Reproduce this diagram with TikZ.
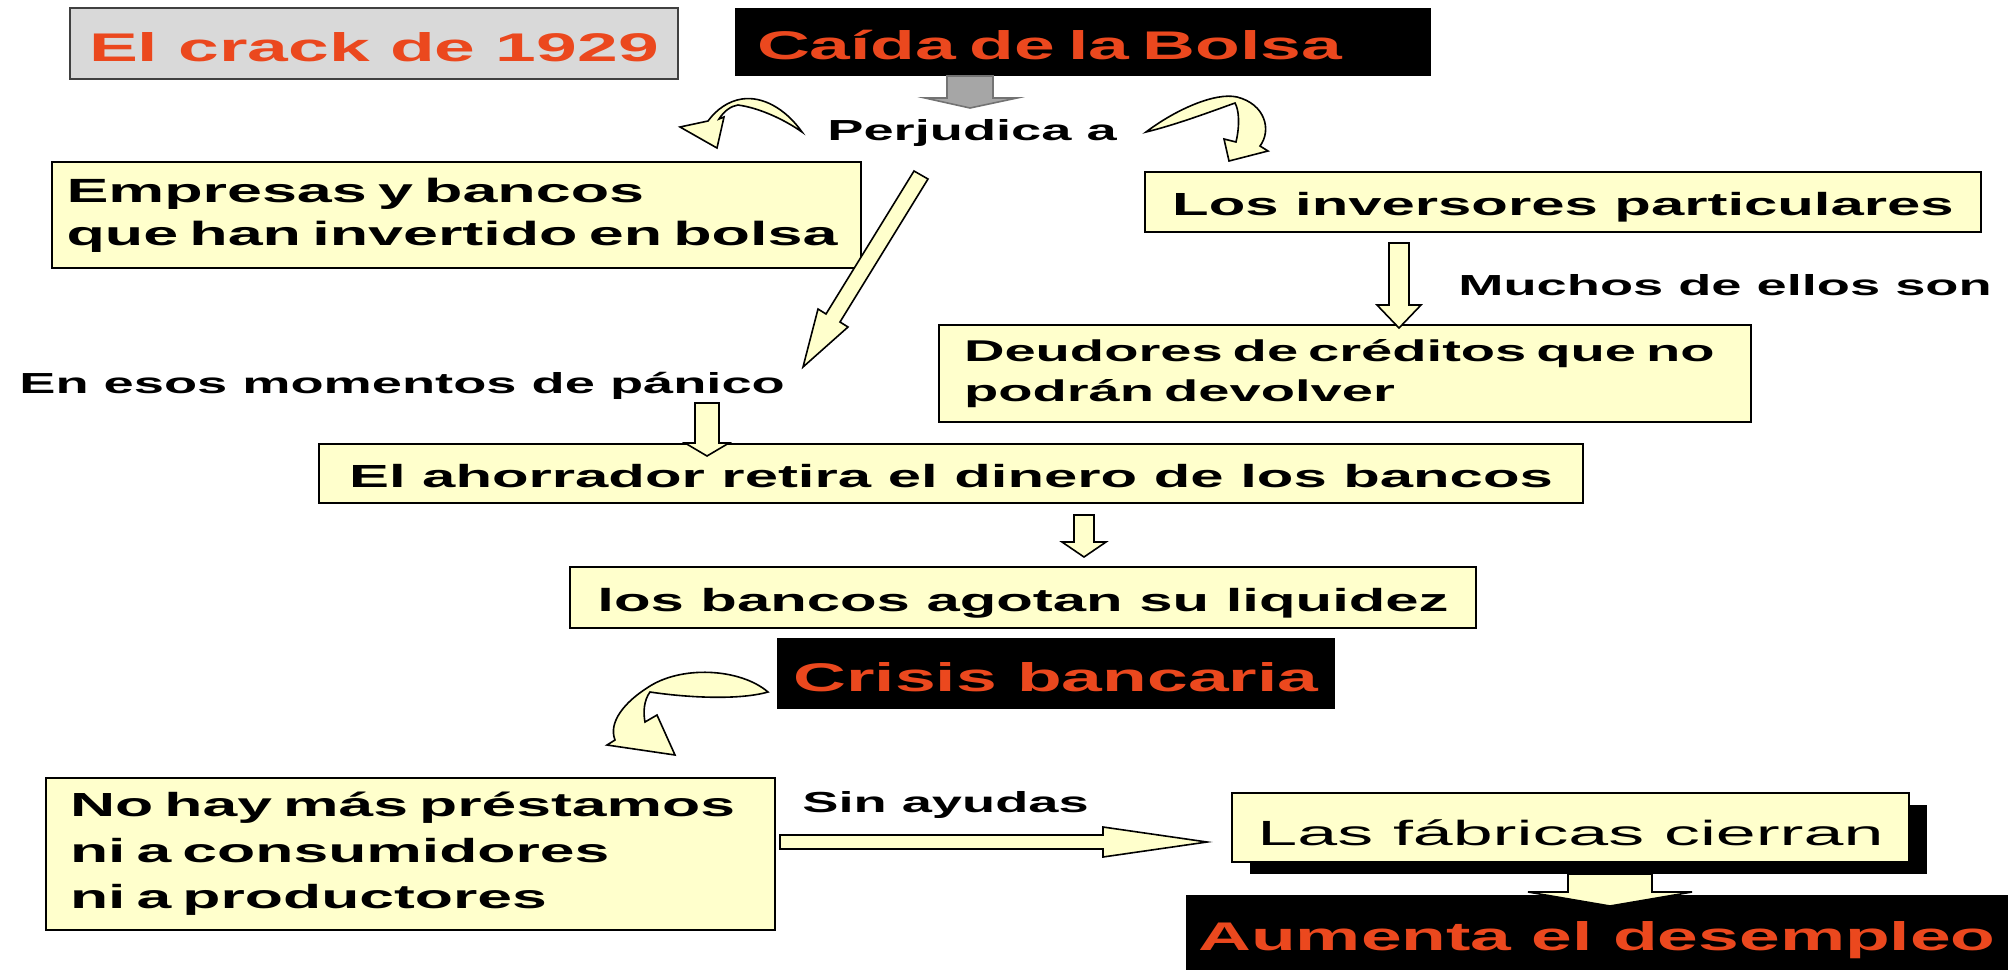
\documentclass[tikz,border=0pt]{standalone}
\usepackage{fontspec}
\setmainfont{Liberation Sans}[FakeStretch=1.87]
\newfontfamily\titlefont{Liberation Sans}[FakeStretch=1.83]
\newfontfamily\plainfont{Liberation Sans}[FakeStretch=2.05]
\usetikzlibrary{shadows}

\definecolor{boxyellow}{RGB}{255,255,204}
\definecolor{titlered}{RGB}{235,72,30}
\definecolor{crackgray}{RGB}{217,217,217}

\begin{document}
\begin{tikzpicture}[x=0.5pt,y=-0.5pt,
    ybox/.style={draw=black, line width=1.2pt, fill=boxyellow, inner sep=0pt,
      font=\bfseries\fontsize{16}{21.5}\selectfont},
    oneline/.style={text height=13.6pt, text depth=0pt},
    tbox/.style={fill=black, text=titlered, inner sep=0pt, text height=17.5pt, text depth=0pt,
      font=\titlefont\bfseries\fontsize{20}{24}\selectfont},
    lbl/.style={anchor=base west, inner sep=0pt, font=\bfseries\fontsize{14.5}{17}\selectfont},
    barrow/.style={draw=black, line width=0.8pt, fill=boxyellow, line join=miter}]
    \path[use as bounding box, fill=white] (0,0) rectangle (2008,970);

    \node[tbox, fill=crackgray, draw=black!75, line width=1pt, minimum width=304pt, minimum height=35.5pt] (crack) at (374,43.5) {El crack de 1929};
    \node[tbox, minimum width=348pt, minimum height=34pt, text width=326pt, align=left] (caida) at (1083,42) {Caída de la Bolsa};
    \node[lbl] (perj) at (827,140) {Perjudica a};
    \node[ybox, font=\bfseries\fontsize{16.8}{21.5}\selectfont, minimum width=404.5pt, minimum height=53pt, text width=390pt, align=left] (emp) at (456.5,215) {Empresas y bancos\\que han invertido en bolsa};
    \node[ybox, oneline, minimum width=418pt, minimum height=30pt] (inv) at (1563,202) {Los inversores particulares};
    \node[lbl] (muchos) at (1458,295) {Muchos de ellos son};
    \node[ybox, font=\bfseries\fontsize{15}{20}\selectfont, minimum width=406pt, minimum height=48.5pt, text width=381pt, align=left] (deu) at (1345,373.5) {Deudores de créditos que no\\podrán devolver};
    \node[lbl] (panico) at (19,393) {En esos momentos de pánico};
    \node[ybox, oneline, minimum width=632pt, minimum height=29.5pt] (aho) at (951,473.5) {El ahorrador retira el dinero de los bancos};
    \node[ybox, oneline, minimum width=453pt, minimum height=30.5pt] (liq) at (1023,597.5) {los bancos agotan su liquidez};
    \node[tbox, minimum width=279pt, minimum height=35.5pt] (crisis) at (1056,673.5) {Crisis bancaria};
    \node[ybox, font=\bfseries\fontsize{16.7}{23}\selectfont, minimum width=364.5pt, minimum height=76pt, text width=340.5pt, align=left] (nohay) at (410.5,854) {No hay más préstamos\\ni a consumidores\\ni a productores};
    \node[lbl] (sin) at (802,812) {Sin ayudas};
    \node[tbox, minimum width=411pt, minimum height=37.5pt] (aum) at (1597,932.5) {Aumenta el desempleo};
    \node[ybox, font=\plainfont\fontsize{17.5}{21}\selectfont, text height=17.5pt, text depth=0pt, minimum width=338.5pt, minimum height=34.5pt,
      drop shadow={shadow xshift=9pt, shadow yshift=-6pt, fill=black, opacity=1}] (fab) at (1570.5,827.5) {Las fábricas cierran};

    \draw[barrow, fill=black!35, draw=black!55] (947,76) -- (993,76) -- (993,98) -- (1017,98) -- (970,108) -- (925,98) -- (947,98) -- cycle;
    \draw[barrow] (802,132) .. controls (785,108) and (762,96) .. (742,99) .. controls (728,101) and (716,110) .. (708,121)
      -- (680,127) -- (717,148) -- (724,117) -- (719,119) .. controls (724,111) and (731,106) .. (738,105)
      .. controls (760,108) and (785,120) .. cycle;
    \draw[barrow] (1146,132) .. controls (1175,110) and (1215,92) .. (1237,97) .. controls (1265,104) and (1272,130) .. (1260,146)
      -- (1268,151) -- (1229,161) -- (1224,139) -- (1236,142) .. controls (1240,125) and (1239,110) .. (1235,103)
      .. controls (1210,112) and (1175,125) .. cycle;
    \draw[barrow] (914,171) -- (928,179) -- (840,322) -- (848,327) -- (803,367) -- (818,309) -- (826,314) -- cycle;
    \draw[barrow] (1389,243) -- (1409,243) -- (1409,305) -- (1421,305) -- (1399,328) -- (1377,305) -- (1389,305) -- cycle;
    \draw[barrow] (695,403) -- (719,403) -- (719,443) -- (729,443) -- (707,456) -- (685,443) -- (695,443) -- cycle;
    \draw[barrow] (1074,515) -- (1094,515) -- (1094,542) -- (1106,542) -- (1084,557) -- (1062,542) -- (1074,542) -- cycle;
    \draw[barrow] (768,692) .. controls (740,668) and (680,665) .. (647,688) .. controls (625,702) and (608,722) .. (615,740)
      -- (607,745) -- (675,755) -- (657,715) -- (645,722) .. controls (643,712) and (644,700) .. (650,692)
      .. controls (690,698) and (740,700) .. cycle;
    \draw[barrow] (780,835) -- (1103,835) -- (1103,827) -- (1207,842) -- (1103,857) -- (1103,849) -- (780,849) -- cycle;
    \draw[barrow] (1568,874) -- (1652,874) -- (1652,892) -- (1692,892) -- (1610,906) -- (1528,892) -- (1568,892) -- cycle;
\end{tikzpicture}
\end{document}
